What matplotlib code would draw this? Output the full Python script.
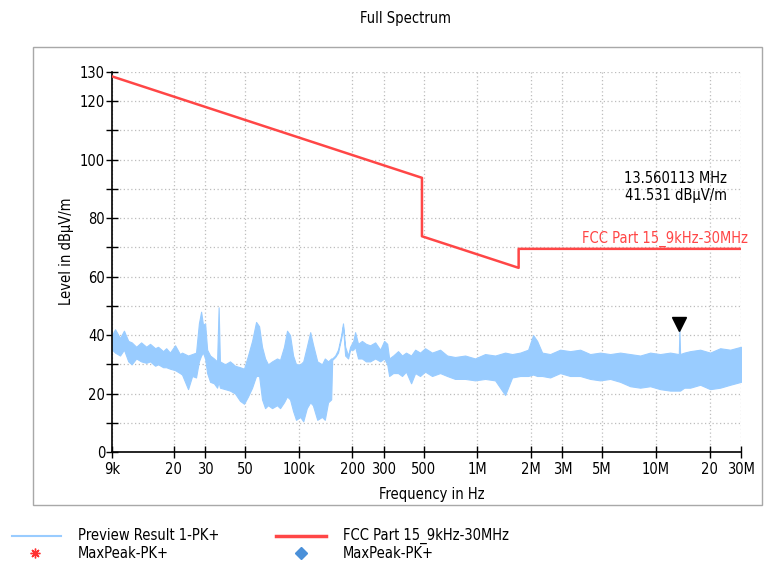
import matplotlib.pyplot as plt
from matplotlib.lines import Line2D
from matplotlib.patches import Rectangle
from matplotlib.ticker import FixedLocator, NullLocator
from matplotlib.transforms import ScaledTranslation, blended_transform_factory

plt.rcParams['font.family'] = ['DejaVu Sans']
plt.rcParams['font.stretch'] = 'condensed'
plt.rcParams['font.size'] = 10.5

# Preview Result 1-PK+ : envelope of the peak trace (kHz, dB)
freq_khz = [9.00, 9.36, 9.98, 10.5, 11.1, 11.6, 12.3, 13.1, 14.0, 14.7, 15.7, 16.3,
            17.4, 18.1, 19.0, 20.3, 21.6, 22.2, 24.0, 25.3, 26.6, 27.6, 28.4, 29.1,
            29.9, 30.7, 31.9, 33.5, 34.9, 35.6, 36.2, 38.7, 41.2, 44.0, 46.9, 49.4,
            52.0, 54.8, 57.7, 60.0, 62.3, 64.8, 67.3, 70.9, 75.6, 78.6, 82.7, 86.0,
            89.4, 93.0, 96.6, 102, 106, 111, 116, 120, 127, 135, 140, 146, 152, 154,
            160, 166, 173, 177, 182, 189, 194, 202, 207, 215, 226, 238, 251, 268,
            286, 301, 313, 321, 338, 360, 379, 399, 426, 449, 478, 510, 558, 619,
            678, 751, 855, 972, 1106, 1259, 1432, 1567, 1738, 1927, 2055, 2164, 2308,
            2559, 2911, 3312, 3768, 4287, 4878, 5549, 6314, 7184, 8173, 9295, 10576,
            12031, 13450, 13560, 13680, 14413, 15570, 17717, 20155, 22928, 26087, 30000]
trace_hi = [40.0, 42.0, 39.0, 41.5, 38.0, 37.5, 36.0, 37.5, 36.0, 37.0, 35.5, 36.0,
            34.5, 35.5, 34.0, 36.5, 33.5, 34.0, 33.0, 33.5, 34.0, 44.0, 48.0, 43.5,
            44.0, 35.0, 33.0, 32.0, 31.0, 49.5, 31.0, 30.0, 31.0, 29.5, 29.0, 28.5,
            33.0, 38.0, 44.5, 43.0, 36.0, 32.0, 30.0, 31.0, 32.0, 31.5, 36.0, 41.5,
            40.0, 33.0, 30.0, 30.0, 31.0, 36.0, 41.0, 37.0, 31.0, 30.0, 32.0, 31.0, 32.0, 32.0,
            33.0, 35.0, 40.0, 44.0, 36.0, 33.0, 36.0, 38.0, 41.0, 37.0, 38.0, 37.0, 36.5, 37.5,
            35.0, 38.0, 37.0, 32.0, 33.0, 34.5, 33.0, 34.0, 33.0, 35.0, 34.0, 35.5, 34.0, 35.0,
            33.0, 32.5, 33.0, 32.0, 33.5, 33.0, 34.0, 33.5, 34.0, 35.0, 40.0, 38.0, 34.0,
            33.5, 35.0, 34.5, 35.0, 33.5, 34.0, 33.5, 34.0, 33.5, 33.0, 34.0, 33.5,
            34.0, 33.5, 41.5, 33.5, 34.0, 34.5, 35.0, 34.0, 35.5, 35.0, 36.0]
trace_lo = [35.0, 34.0, 33.0, 35.0, 31.0, 30.0, 32.0, 31.0, 30.5, 31.0, 29.5, 30.0,
            29.0, 29.0, 28.5, 28.0, 27.0, 26.5, 21.5, 26.0, 25.5, 31.0, 33.0, 34.0,
            32.0, 27.0, 24.0, 23.5, 22.0, 24.0, 22.0, 21.5, 21.0, 20.0, 17.5, 16.5,
            19.0, 22.0, 26.0, 26.0, 18.0, 15.0, 16.0, 15.0, 16.0, 15.0, 17.0, 19.0,
            18.0, 14.0, 11.0, 12.0, 10.5, 15.0, 17.0, 16.0, 11.0, 12.0, 11.0, 17.0, 18.0, 31.5,
            32.5, 34.0, 39.0, 43.0, 33.0, 32.0, 35.0, 35.0, 36.0, 32.0, 32.0, 31.0, 31.0, 32.0,
            31.0, 32.0, 30.0, 26.0, 27.0, 27.0, 26.0, 27.5, 23.5, 27.0, 26.0, 27.5, 26.0, 27.0,
            26.0, 25.0, 25.0, 24.5, 25.0, 24.5, 19.5, 25.5, 26.0, 26.0, 26.5, 26.0, 26.0,
            25.5, 27.0, 26.0, 26.0, 25.0, 24.5, 25.0, 24.0, 22.5, 22.0, 22.5, 21.5,
            21.0, 21.0, 21.0, 21.0, 22.0, 22.0, 23.0, 21.5, 22.0, 23.0, 24.0]

# FCC Part 15 limit, 9 kHz - 30 MHz (3 m)
limit_khz = [9, 490, 490, 1705, 1705, 30000]
limit_db = [128.5, 93.8, 73.8, 63.0, 69.5, 69.5]

marker_khz = 13560.113
marker_db = 41.531

x_ticks_khz = [9, 20, 30, 50, 100, 200, 300, 500, 1000, 2000, 3000, 5000, 10000, 20000, 30000]
x_labels = ['9k', '20', '30', '50', '100k', '200', '300', '500', '1M', '2M', '3M', '5M',
            '10M', '20', '30M']
y_ticks = list(range(0, 131, 10))
y_labels = ['0', '', '20', '', '40', '', '60', '', '80', '', '100', '', '120', '130']

W, H = 764, 562
fig = plt.figure(figsize=(W / 100, H / 100), dpi=100)
fig.patches.append(Rectangle((33 / W, 57 / H), 729 / W, 458 / H, transform=fig.transFigure,
                             fill=False, ec='#A8A8A8', lw=1))

ax = fig.add_axes([112 / W, 110 / H, 629 / W, 380 / H])
f_hz = [f * 1e3 for f in freq_khz]
ax.fill_between(f_hz, trace_lo, trace_hi, color='#99CCFF', ec='#99CCFF', lw=0.8, zorder=2)
ax.plot([f * 1e3 for f in limit_khz], limit_db, color='#FF4646', lw=1.8, zorder=3)

shift = ax.transData + ScaledTranslation(0, 5 / 72, fig.dpi_scale_trans)
ax.plot([marker_khz * 1e3], [marker_db], marker='v', ms=10.5, color='black', ls='none',
        transform=shift, zorder=4)

ax.set_xscale('log')
ax.set_xlim(9e3, 3e7)
ax.set_ylim(0, 130)
ax.xaxis.set_major_locator(FixedLocator([f * 1e3 for f in x_ticks_khz]))
ax.xaxis.set_minor_locator(NullLocator())
ax.set_xticklabels(x_labels)
ax.yaxis.set_major_locator(FixedLocator(y_ticks))
ax.set_yticklabels(y_labels)
ax.tick_params(direction='inout', length=8, width=1, color='black', labelsize=10.5)
ax.tick_params(axis='y', pad=1)
ax.tick_params(axis='x', pad=3)
ax.grid(True, ls=(0, (1, 2)), color='#BDBDBD', lw=0.9)
ax.spines['top'].set_visible(False)
ax.spines['right'].set_visible(False)
for s in ('left', 'bottom'):
    ax.spines[s].set_linewidth(1.2)

ax.text(0.978, 0.721, f'{marker_khz / 1000:.6f} MHz', transform=ax.transAxes,
        ha='right', va='center')
ax.text(0.978, 0.676, f'{marker_db:.3f} dBµV/m', transform=ax.transAxes,
        ha='right', va='center')
bt = blended_transform_factory(ax.transAxes, ax.transData)
ax.text(1.011, limit_db[-1] + 0.8, 'FCC Part 15_9kHz-30MHz', transform=bt, ha='right',
        va='bottom', color='#FF4646')

fig.text(406 / W, 1 - 18 / H, 'Full Spectrum', ha='center', va='center')
fig.text(432 / W, 1 - 495 / H, 'Frequency in Hz', ha='center', va='center')
fig.text(67 / W, 1 - 251 / H, 'Level in dBµV/m', rotation=90, ha='center', va='center')

# legend below the frame
r1, r2 = 1 - 536 / H, 1 - 553 / H
fig.add_artist(Line2D([12 / W, 61 / W], [r1, r1], color='#99CCFF', lw=1.5))
fig.add_artist(Line2D([276 / W, 326 / W], [r1, r1], color='#FF4646', lw=2.5))
fig.add_artist(Line2D([35 / W], [r2], marker=(8, 2, 0), ms=7, color='#FF3030', ls='none'))
fig.add_artist(Line2D([301 / W], [r2], marker='D', ms=6.5, color='#4A90D9', ls='none'))
fig.text(78 / W, r1, 'Preview Result 1-PK+', va='center')
fig.text(343 / W, r1, 'FCC Part 15_9kHz-30MHz', va='center')
fig.text(78 / W, r2, 'MaxPeak-PK+', va='center')
fig.text(343 / W, r2, 'MaxPeak-PK+', va='center')

fig.savefig('out.png', dpi=100)
